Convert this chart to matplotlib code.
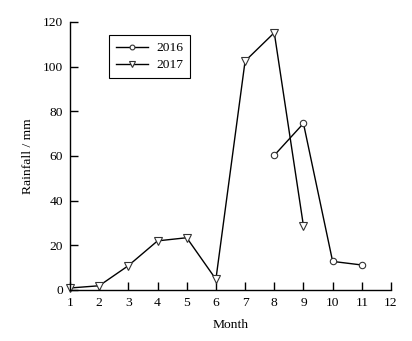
import matplotlib
matplotlib.use('Agg')
import matplotlib.pyplot as plt

months_2016 = [8, 9, 10, 11]
rain_2016 = [60.3, 74.6, 12.8, 11.2]
months_2017 = [1, 2, 3, 4, 5, 6, 7, 8, 9]
rain_2017 = [0.9, 1.9, 10.9, 22.0, 23.4, 4.8, 102.5, 115.2, 28.7]
xticks = list(range(1, 13))
yticks = [0, 20, 40, 60, 80, 100, 120]

plt.rcParams['font.family'] = ['Liberation Serif', 'DejaVu Serif']
plt.rcParams['font.size'] = 9.7

fig = plt.figure(figsize=(4.12, 3.41), dpi=100)
ax = fig.add_axes([70/412, 51/341, 321/412, 268/341])

ax.plot(months_2016, rain_2016, 'k-', marker='o', mfc='white', mec='#333333',
        ms=4.6, lw=1, mew=0.8, label='2016', clip_on=False)
ax.plot(months_2017, rain_2017, 'k-', marker='v', mfc='white', mec='#333333',
        ms=5.2, lw=1, mew=0.8, label='2017', clip_on=False)

ax.set_xlim(1, 12)
ax.set_ylim(0, 120)
ax.set_xticks(xticks)
ax.set_yticks(yticks)
ax.spines['top'].set_visible(False)
ax.spines['right'].set_visible(False)
for s in ['left', 'bottom']:
    ax.spines[s].set_linewidth(1)
ax.tick_params(direction='in', length=6, width=1, pad=5)
ax.set_xlabel('Month', labelpad=7)
ax.set_ylabel('Rainfall / mm', labelpad=6)

leg = ax.legend(loc='upper left', bbox_to_anchor=(0.121, 0.951), borderaxespad=0,
                fancybox=False, edgecolor='black', framealpha=1, handlelength=2.4,
                markerscale=0.75, borderpad=0.5, labelspacing=0.35, handletextpad=0.6)
leg.get_frame().set_linewidth(0.8)

fig.savefig('out.png', dpi=100)
